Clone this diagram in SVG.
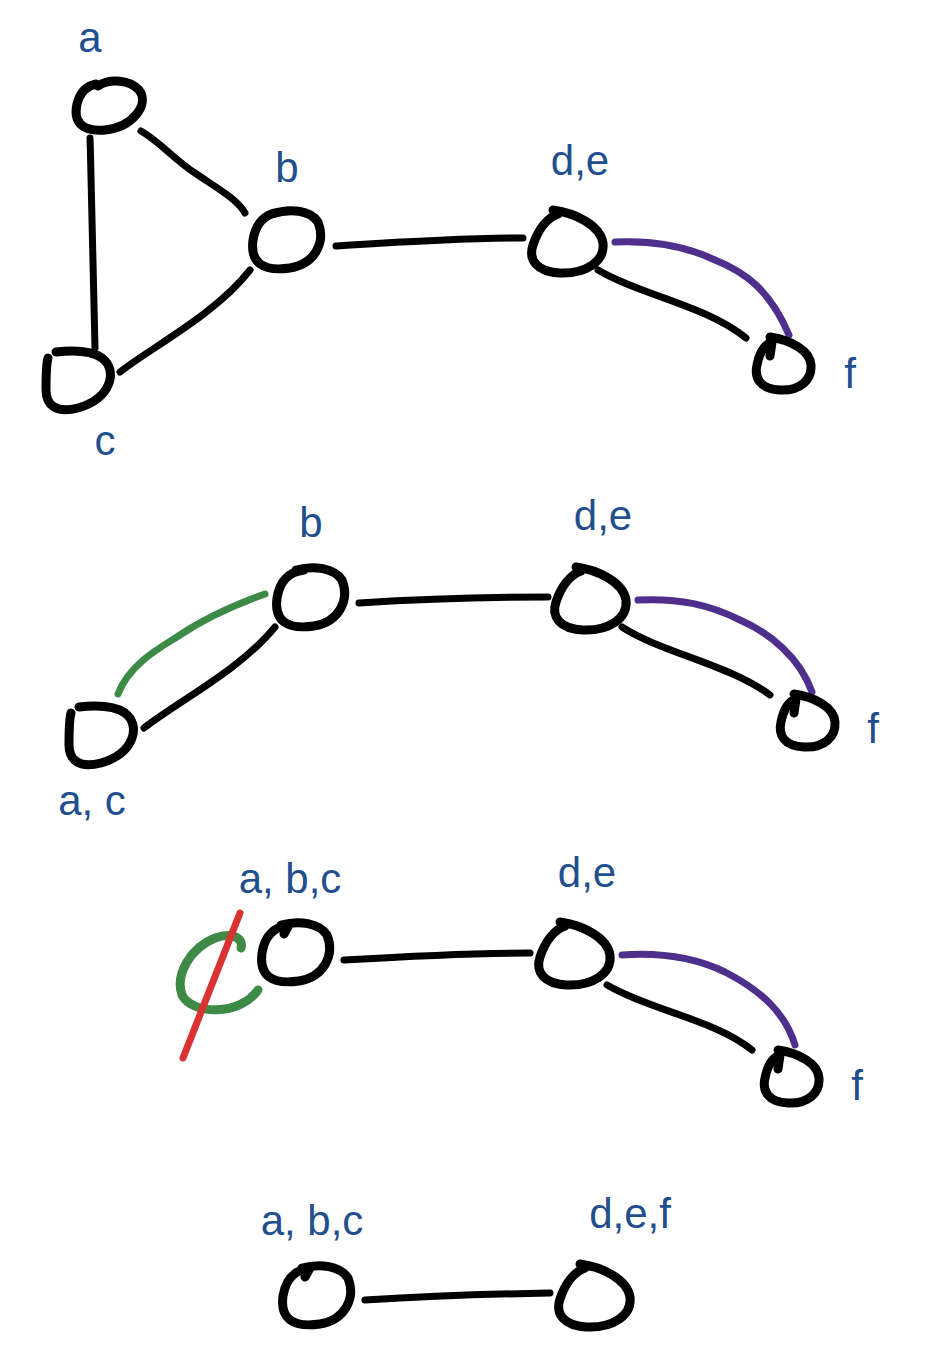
<svg xmlns="http://www.w3.org/2000/svg" width="940" height="1366" viewBox="0 0 940 1366">
<style>
.n{fill:none;stroke:#000;stroke-width:9;stroke-linecap:round;stroke-linejoin:round}
.e{fill:none;stroke:#000;stroke-width:7;stroke-linecap:round;stroke-linejoin:round}
.p{fill:none;stroke:#4e2f8c;stroke-width:7;stroke-linecap:round}
.g{fill:none;stroke:#3d8a47;stroke-width:7;stroke-linecap:round}
.g2{fill:none;stroke:#3d8a47;stroke-width:9;stroke-linecap:round}
.r{fill:none;stroke:#d83232;stroke-width:7;stroke-linecap:round}
.t{font-family:"Liberation Sans",Arial,sans-serif;font-size:42px;fill:#1f4f8c;text-anchor:middle}
</style>
<rect width="940" height="1366" fill="#fff"/>
<g id="connectors">
<path class="e" d="M90 138 C92 200 93 260 95 348"/>
<path class="e" d="M141 131 C160 142 175 160 195 173 C220 190 238 200 245 213"/>
<path class="e" d="M120 372 C150 348 215 315 250 270"/>
<path class="e" d="M336 246 C400 242 460 238 523 238"/>
<path class="p" d="M615 242 C660 240 690 248 715 260 C745 272 770 290 789 335"/>
<path class="e" d="M598 270 C640 295 705 305 746 338"/>

<path class="g" d="M118 694 C130 662 165 645 180 635 C210 615 240 603 265 594"/>
<path class="e" d="M144 728 C180 700 240 670 275 627"/>
<path class="e" d="M359 603 C420 599 490 597 548 597"/>
<path class="p" d="M638 600 C680 598 710 605 740 620 C770 633 800 658 812 692"/>
<path class="e" d="M622 627 C660 652 730 665 770 695"/>

<path class="g2" d="M241 948 C244 938 232 932 215 938 C190 948 175 975 182 995 C192 1015 240 1016 258 990"/>
<path class="r" d="M240 913 L183 1058"/>
<path class="e" d="M344 960 C410 956 470 953 530 953"/>
<path class="p" d="M622 955 C665 952 700 960 725 972 C760 990 785 1012 795 1045"/>
<path class="e" d="M607 985 C650 1010 715 1020 752 1050"/>

<path class="e" d="M365 1300 C430 1296 490 1294 550 1293"/>
</g>

<g id="node-a">
<path class="n" d="M98 86 C110 78 130 80 139 90 C150 104 133 127 105 130 C82 132 73 122 77 104 C80 92 86 86 96 84 L90 86"/>
<text class="t" x="90" y="52">a</text>
</g>
<g id="node-b">
<path class="n" d="M272 214 C290 208 310 210 318 222 C326 242 315 264 290 268 C262 272 250 262 253 240 C256 222 265 214 280 212"/>
<text class="t" x="287" y="182">b</text>
</g>
<g id="node-c">
<path class="n" d="M56 352 C75 350 92 351 102 358 C118 370 112 398 78 408 C55 414 46 404 46 390 C46 375 46 365 48 358"/>
<text class="t" x="105" y="455">c</text>
</g>
<g id="node-de-1">
<path class="n" d="M553 210 C575 213 600 225 603 243 C605 262 585 274 560 273 C537 272 528 260 533 245 C538 230 547 218 558 214"/>
<text class="t" x="580" y="175">d,e</text>
</g>
<g id="node-f-1">
<path class="n" d="M770 337 C790 340 810 350 811 365 C812 380 800 391 780 390 C760 389 754 378 757 365 C760 350 766 344 772 342 L770 356"/>
<text class="t" x="850" y="388">f</text>
</g>

<g id="node-b-2">
<path class="n" d="M296 570 C314 565 334 568 342 580 C350 600 339 622 314 626 C286 630 274 620 277 598 C280 580 289 572 304 570"/>
<text class="t" x="311" y="537">b</text>
</g>
<g id="node-de-2">
<path class="n" d="M576 567 C598 570 623 582 626 600 C628 619 608 631 583 630 C560 629 551 617 556 602 C561 587 570 575 581 571"/>
<text class="t" x="603" y="530">d,e</text>
</g>
<g id="node-f-2">
<path class="n" d="M794 694 C814 697 834 707 835 722 C836 737 824 748 804 747 C784 746 778 735 781 722 C784 707 790 701 796 699 L794 713"/>
<text class="t" x="873" y="743">f</text>
</g>
<g id="node-ac">
<path class="n" d="M79 707 C98 705 115 706 125 713 C141 725 135 753 101 763 C78 769 69 759 69 745 C69 730 69 720 71 713"/>
<text class="t" x="92" y="815">a, c</text>
</g>

<g id="node-abc-3">
<path class="n" d="M281 925 C299 920 319 923 327 935 C335 955 324 977 299 981 C271 985 259 975 262 953 C265 935 274 927 289 925 L284 934"/>
<text class="t" x="290" y="893">a, b,c</text>
</g>
<g id="node-de-3">
<path class="n" d="M560 922 C582 925 607 937 610 955 C612 974 592 986 567 985 C544 984 535 972 540 957 C545 942 554 930 565 926"/>
<text class="t" x="587" y="887">d,e</text>
</g>
<g id="node-f-3">
<path class="n" d="M778 1050 C798 1053 818 1063 819 1078 C820 1093 808 1104 788 1103 C768 1102 762 1091 765 1078 C768 1063 774 1057 780 1055 L778 1069"/>
<text class="t" x="857" y="1100">f</text>
</g>

<g id="node-abc-4">
<path class="n" d="M302 1268 C320 1263 340 1266 348 1278 C356 1298 345 1320 320 1324 C292 1328 280 1318 283 1296 C286 1278 295 1270 310 1268 L305 1277"/>
<text class="t" x="312" y="1235">a, b,c</text>
</g>
<g id="node-def-4">
<path class="n" d="M580 1264 C602 1267 627 1279 630 1297 C632 1316 612 1328 587 1327 C564 1326 555 1314 560 1299 C565 1284 574 1272 585 1268"/>
<text class="t" x="630" y="1228">d,e,f</text>
</g>
</svg>
